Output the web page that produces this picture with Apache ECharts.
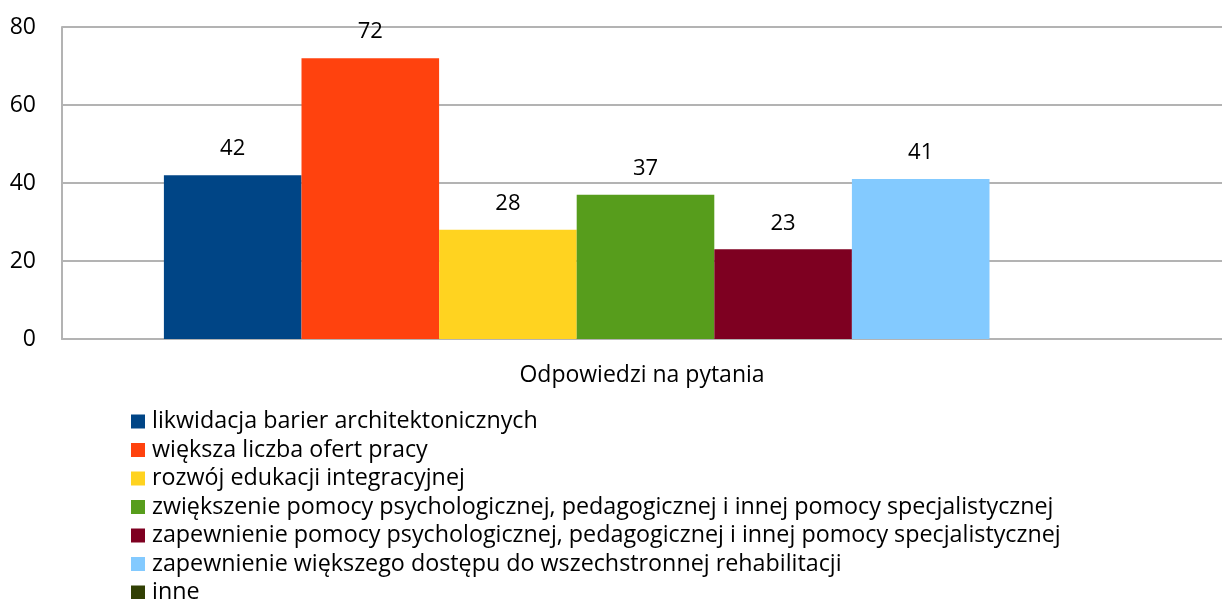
<!DOCTYPE html>
<html>
<head>
<meta charset="utf-8">
<script src="https://cdn.jsdelivr.net/npm/echarts@6/dist/echarts.min.js"></script>
<style>
  html, body { margin: 0; padding: 0; background: #fff; }
  #chart { width: 1222px; height: 599px; }
</style>
</head>
<body>
<div id="chart"></div>
<script>
// values
var categories = ['Odpowiedzi na pytania'];
var seriesNames = [
  'likwidacja barier architektonicznych',
  'większa liczba ofert pracy',
  'rozwój edukacji integracyjnej',
  'zwiększenie pomocy psychologicznej, pedagogicznej i innej pomocy specjalistycznej',
  'zapewnienie pomocy psychologicznej, pedagogicznej i innej pomocy specjalistycznej',
  'zapewnienie większego dostępu do wszechstronnej rehabilitacji',
  'inne'
];
var values = [42, 72, 28, 37, 23, 41, '-'];
var colors = ['#004586', '#ff420e', '#ffd320', '#579d1c', '#7e0021', '#83caff', '#314004'];
var yTicks = { min: 0, max: 80, interval: 20 };

var font = 'Open Sans';
var fs = 23;

var series = seriesNames.map(function (name, i) {
  return {
    name: name,
    type: 'bar',
    data: [values[i]],
    barWidth: 137.6,
    barGap: 0,
    itemStyle: { color: colors[i] },
    label: {
      show: true,
      position: 'top',
      distance: 15,
      color: '#000',
      fontFamily: font,
      fontSize: 22
    },
    emphasis: { disabled: true }
  };
});

var chart = echarts.init(document.getElementById('chart'));
chart.setOption({
  animation: false,
  color: colors,
  textStyle: { fontFamily: font },
  grid: { left: 62, right: -7, top: 27, bottom: 260, containLabel: false, outerBoundsMode: 'none' },
  legend: {
    orient: 'vertical',
    left: 126,
    top: 405,
    height: 220,
    itemWidth: 14,
    itemHeight: 14,
    itemGap: 5.5,
    icon: 'rect',
    selectedMode: false,
    textStyle: { color: '#000', fontSize: 23.3, fontFamily: font, lineHeight: 23, padding: [0, 0, 0, 2] },
    data: seriesNames
  },
  xAxis: {
    type: 'category',
    data: categories,
    axisLine: { lineStyle: { color: '#b3b3b3', width: 2 } },
    axisTick: { show: false },
    axisLabel: { color: '#000', fontSize: fs, fontFamily: font, margin: 25, padding: [0, 7, 0, 0] }
  },
  yAxis: {
    type: 'value',
    min: yTicks.min,
    max: yTicks.max,
    interval: yTicks.interval,
    axisLine: { show: true, lineStyle: { color: '#b3b3b3', width: 2 } },
    axisTick: { show: false },
    splitLine: { lineStyle: { color: '#b3b3b3', width: 2 } },
    axisLabel: { color: '#000', fontSize: fs, fontFamily: font, margin: 26 }
  },
  series: series
});
</script>
</body>
</html>
